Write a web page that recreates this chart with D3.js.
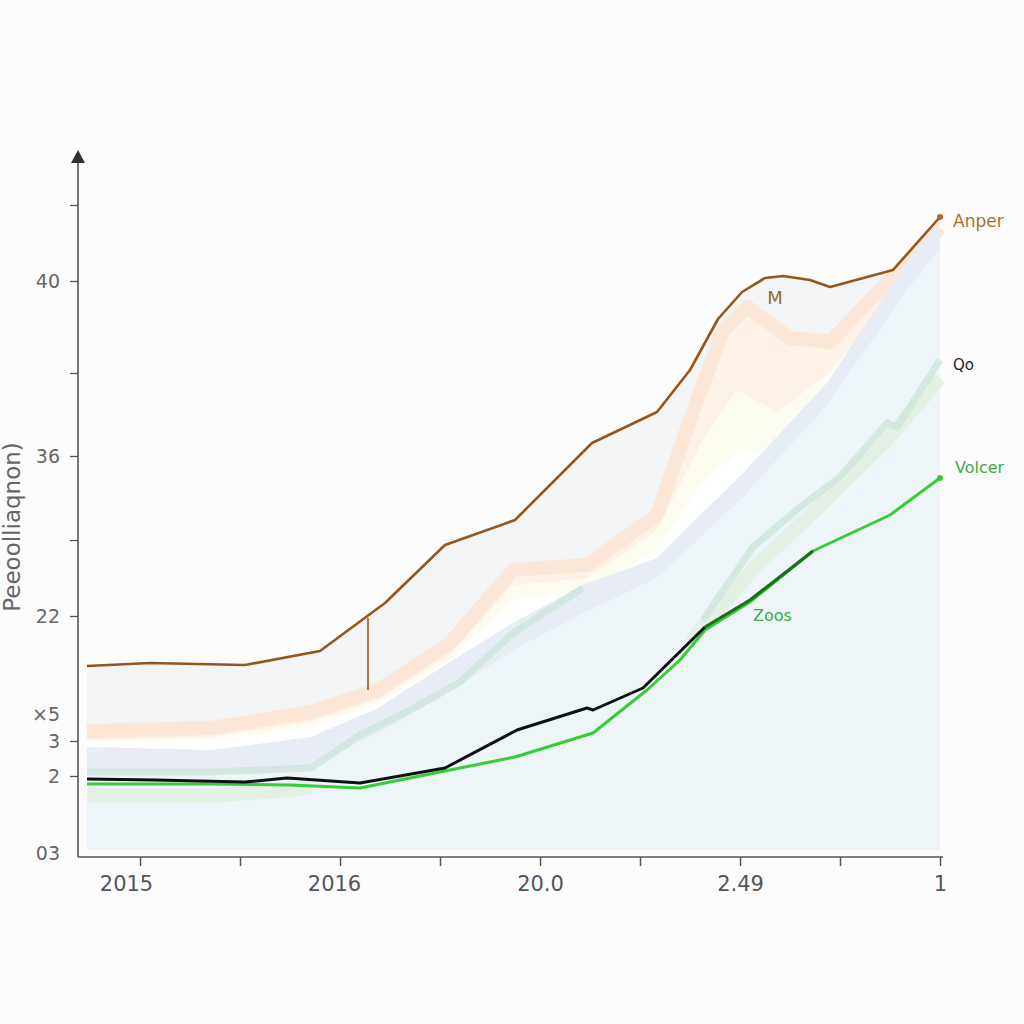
<!DOCTYPE html>
<html>
<head>
<meta charset="utf-8">
<script src="https://cdn.jsdelivr.net/npm/d3@7"></script>
<style>
  html, body { margin: 0; padding: 0; background: #fcfcfc; }
  svg { display: block; }
  text { font-family: "DejaVu Sans", "Noto Sans", sans-serif; }
</style>
</head>
<body>
<svg id="chart" width="1024" height="1024"></svg>
<script>
// ---------------- data ----------------
const xTickLabels = ["2015", "", "2016", "", "20.0", "", "2.49", "", "1"];
const yTickValues = [57.2, 39.7, 23.7, 13.9, 11.2, 7.7, 0];
const yTickLabels = ["40", "36", "22", "\u00d75", "3", "2", "03"];
const yMinorTicks = [64.8, 48.0, 31.3];
const yTitle = "Peeoolliaqnon)";

// series: [x, y]
const anper = [[-0.53,18.7],[0.10,19.0],[1.05,18.8],[1.80,20.2],[2.45,25.0],[3.05,30.8],[3.75,33.3],[4.52,41.0],[5.17,44.1],[5.50,48.3],[5.78,53.4],[6.02,56.1],[6.25,57.5],[6.43,57.7],[6.70,57.3],[6.90,56.6],[7.53,58.3],[8.0,63.6]];
const anperMarker = [[2.28,23.5],[2.28,16.3]];
const peach = [[-0.53,12.2],[0.71,12.5],[1.71,14.1],[2.38,16.3],[3.10,21.0],[3.73,28.3],[4.47,28.8],[5.17,33.8],[5.50,43.3],[5.83,52.3],[6.07,54.6],[6.50,51.5],[6.90,51.1],[7.67,59.1],[8.0,62.5]];
const cream = [[-0.53,11.3],[0.71,11.6],[1.71,13.1],[2.38,15.3],[3.10,19.8],[3.73,26.8],[4.47,27.5],[5.17,32.3],[5.60,40.8],[5.97,46.3],[6.37,44.1],[6.90,48.1],[7.67,57.8],[8.0,61.7]];
const whiteBand = [[-0.53,11.1],[0.71,11.3],[1.71,12.6],[2.38,15.0],[3.13,19.5],[3.73,25.3],[4.47,26.3],[5.17,30.3],[5.60,36.8],[6.00,40.3],[6.37,39.8],[6.90,44.8],[7.67,56.8],[8.0,61.3]];
const lavenderTop = [[-0.53,10.6],[0.71,10.3],[1.71,11.6],[2.38,14.5],[3.13,19.3],[3.73,23.0],[4.43,26.8],[5.17,29.5],[6.03,38.0],[6.87,47.0],[7.67,59.1],[8.0,63.1]];
const blueTop = [[-0.53,8.0],[0.71,8.0],[1.71,8.7],[2.38,12.0],[3.13,16.3],[3.73,20.3],[4.43,24.0],[5.17,27.5],[6.03,35.6],[6.87,44.8],[7.67,56.3],[8.0,60.5]];
const qo = [[-0.53,8.1],[0.71,8.1],[1.71,8.5],[2.20,11.8],[2.70,14.3],[3.20,17.1],[3.73,22.0],[4.43,26.5],[null,null],[5.63,23.3],[6.13,30.6],[6.60,34.6],[7.00,37.6],[7.47,43.0],[7.57,42.6],[8.0,49.3]];
const greenShade = [[-0.53,5.8],[0.71,5.7],[1.50,6.3],[1.71,6.6],[null,null],[5.50,21.1],[6.17,28.8],[6.60,32.8],[7.47,41.3],[8.0,47.5]];
const blackLine = [[-0.53,7.4],[0.15,7.3],[1.05,7.1],[1.47,7.5],[2.20,7.0],[2.60,7.7],[3.05,8.5],[3.77,12.3],[4.47,14.5],[4.53,14.3],[5.03,16.5],[5.65,22.6]];
const darkGreen = [[5.65,22.6],[6.10,25.3],[6.73,30.2]];
const volcer = [[-0.53,6.9],[0.60,6.9],[1.50,6.8],[2.20,6.5],[3.05,8.2],[3.75,9.6],[4.53,12.0],[5.07,16.3],[5.40,19.3],[5.65,22.3],[6.10,25.1],[6.73,30.2],[7.50,33.8],[8.0,37.5]];
const labelM = [6.35, 54.9];
const labelZoos = [6.13, 23.2];

// ---------------- drawing ----------------
const svg = d3.select("#chart");
const x = d3.scaleLinear().domain([0, 8]).range([140, 940]);
const y = d3.scaleLinear().domain([0, 70.3]).range([853, 150]);

const def = d => d[0] !== null;
const line = d3.line().defined(def).x(d => x(d[0])).y(d => y(d[1]));
const area = d3.area().defined(def).x(d => x(d[0])).y0(y(0.3)).y1(d => y(d[1]));

const g = svg.append("g");

g.append("path").datum(anper).attr("d", area).attr("fill", "#f3f4f5");
g.append("path").datum(peach).attr("d", area).attr("fill", "#fdf1e8");
g.append("path").datum(peach).attr("d", line).attr("fill", "none")
  .attr("stroke", "#fbe6d7").attr("stroke-width", 14).attr("stroke-linejoin", "round");
g.append("path").datum(cream).attr("d", area).attr("fill", "#fdfcf0");
g.append("path").datum(whiteBand).attr("d", area).attr("fill", "#ffffff");
g.append("path").datum(lavenderTop).attr("d", area).attr("fill", "#e8ecf5");
g.append("path").datum(blueTop).attr("d", area).attr("fill", "#eef5f9");

g.append("path").datum(greenShade).attr("d", line).attr("fill", "none")
  .attr("stroke", "#e0eedb").attr("stroke-width", 14).attr("stroke-opacity", 0.75)
  .attr("stroke-linejoin", "round");
g.append("path").datum(qo).attr("d", line).attr("fill", "none")
  .attr("stroke", "#cfe6dc").attr("stroke-width", 7).attr("stroke-opacity", 0.85)
  .attr("stroke-linejoin", "round");

g.append("path").datum(volcer).attr("d", line).attr("fill", "none")
  .attr("stroke", "#36cc36").attr("stroke-width", 3).attr("stroke-linejoin", "round");
g.append("path").datum(blackLine).attr("d", line).attr("fill", "none")
  .attr("stroke", "#111").attr("stroke-width", 3).attr("stroke-linejoin", "round");
g.append("path").datum(darkGreen).attr("d", line).attr("fill", "none")
  .attr("stroke", "#1f6c1f").attr("stroke-width", 3.2).attr("stroke-linejoin", "round");

g.append("path").datum(anperMarker).attr("d", line).attr("fill", "none")
  .attr("stroke", "#b0793a").attr("stroke-width", 2);
g.append("path").datum(anper).attr("d", line).attr("fill", "none")
  .attr("stroke", "#94561a").attr("stroke-width", 2.6).attr("stroke-linejoin", "round");

const aEnd = anper[anper.length - 1];
const vEnd = volcer[volcer.length - 1];
const qEnd = qo[qo.length - 1];
g.append("circle").attr("cx", x(aEnd[0])).attr("cy", y(aEnd[1])).attr("r", 3).attr("fill", "#b8652a");
g.append("circle").attr("cx", x(vEnd[0])).attr("cy", y(vEnd[1])).attr("r", 3).attr("fill", "#36cc36");

// series labels
g.append("text").attr("x", x(aEnd[0]) + 13).attr("y", y(aEnd[1]) + 10)
  .attr("font-size", 17).attr("fill", "#a8702c").text("Anper");
g.append("text").attr("x", x(qEnd[0]) + 13).attr("y", y(qEnd[1]) + 10)
  .attr("font-size", 15).attr("fill", "#222").text("Qo");
g.append("text").attr("x", x(vEnd[0]) + 15).attr("y", y(vEnd[1]) - 5)
  .attr("font-size", 16).attr("fill", "#3bab44").text("Volcer");
g.append("text").attr("x", x(labelM[0])).attr("y", y(labelM[1]))
  .attr("font-size", 18).attr("fill", "#98692c").attr("text-anchor", "middle").text("M");
g.append("text").attr("x", x(labelZoos[0])).attr("y", y(labelZoos[1]))
  .attr("font-size", 16).attr("fill", "#3bab44").text("Zoos");

// ---------------- axes ----------------
const axisColor = "#555";
const xAxis = d3.axisBottom(x).tickValues(d3.range(9))
  .tickFormat((d, i) => xTickLabels[i]).tickSize(9).tickPadding(10).tickSizeOuter(0);
const gx = svg.append("g").attr("transform", "translate(0,857)").call(xAxis);
gx.select(".domain").remove();
gx.selectAll(".tick line").attr("stroke", axisColor).attr("stroke-width", 1.5);
gx.selectAll(".tick text").attr("font-size", 21).attr("fill", "#555")
  .attr("font-family", "'DejaVu Sans Condensed', 'Liberation Sans Narrow', 'DejaVu Sans', sans-serif")
  .attr("dx", (d, i) => i === 0 ? -14 : (i === 2 ? -6 : 0));
svg.append("line").attr("x1", 78).attr("x2", 943).attr("y1", 857).attr("y2", 857)
  .attr("stroke", axisColor).attr("stroke-width", 1.6);

const yAxis = d3.axisLeft(y).tickValues(yTickValues)
  .tickFormat((d, i) => yTickLabels[i]).tickSize(8).tickPadding(10).tickSizeOuter(0);
const gy = svg.append("g").attr("transform", "translate(78,0)").call(yAxis);
gy.select(".domain").remove();
gy.selectAll(".tick line").attr("stroke", axisColor).attr("stroke-width", 1.3)
  .attr("stroke-opacity", (d, i) => (yTickLabels[i] === "\u00d75" || yTickLabels[i] === "03") ? 0 : 1);
gy.selectAll(".tick text").attr("font-size", 19).attr("fill", "#666");

const gyMinor = svg.append("g").attr("transform", "translate(78,0)")
  .call(d3.axisLeft(y).tickValues(yMinorTicks).tickFormat("").tickSize(8).tickSizeOuter(0));
gyMinor.select(".domain").remove();
gyMinor.selectAll(".tick line").attr("stroke", axisColor).attr("stroke-width", 1.3);

svg.append("line").attr("x1", 78).attr("x2", 78).attr("y1", 158).attr("y2", 857)
  .attr("stroke", axisColor).attr("stroke-width", 1.6);
svg.append("path").attr("d", "M78,150 L71,163 L85,163 Z").attr("fill", "#333");

svg.append("text").attr("transform", "translate(20,527) rotate(-90)")
  .attr("text-anchor", "middle").attr("font-size", 23).attr("fill", "#666")
  .attr("font-family", "'DejaVu Sans Condensed', 'Liberation Sans Narrow', 'DejaVu Sans', sans-serif")
  .text(yTitle);
</script>
</body>
</html>
